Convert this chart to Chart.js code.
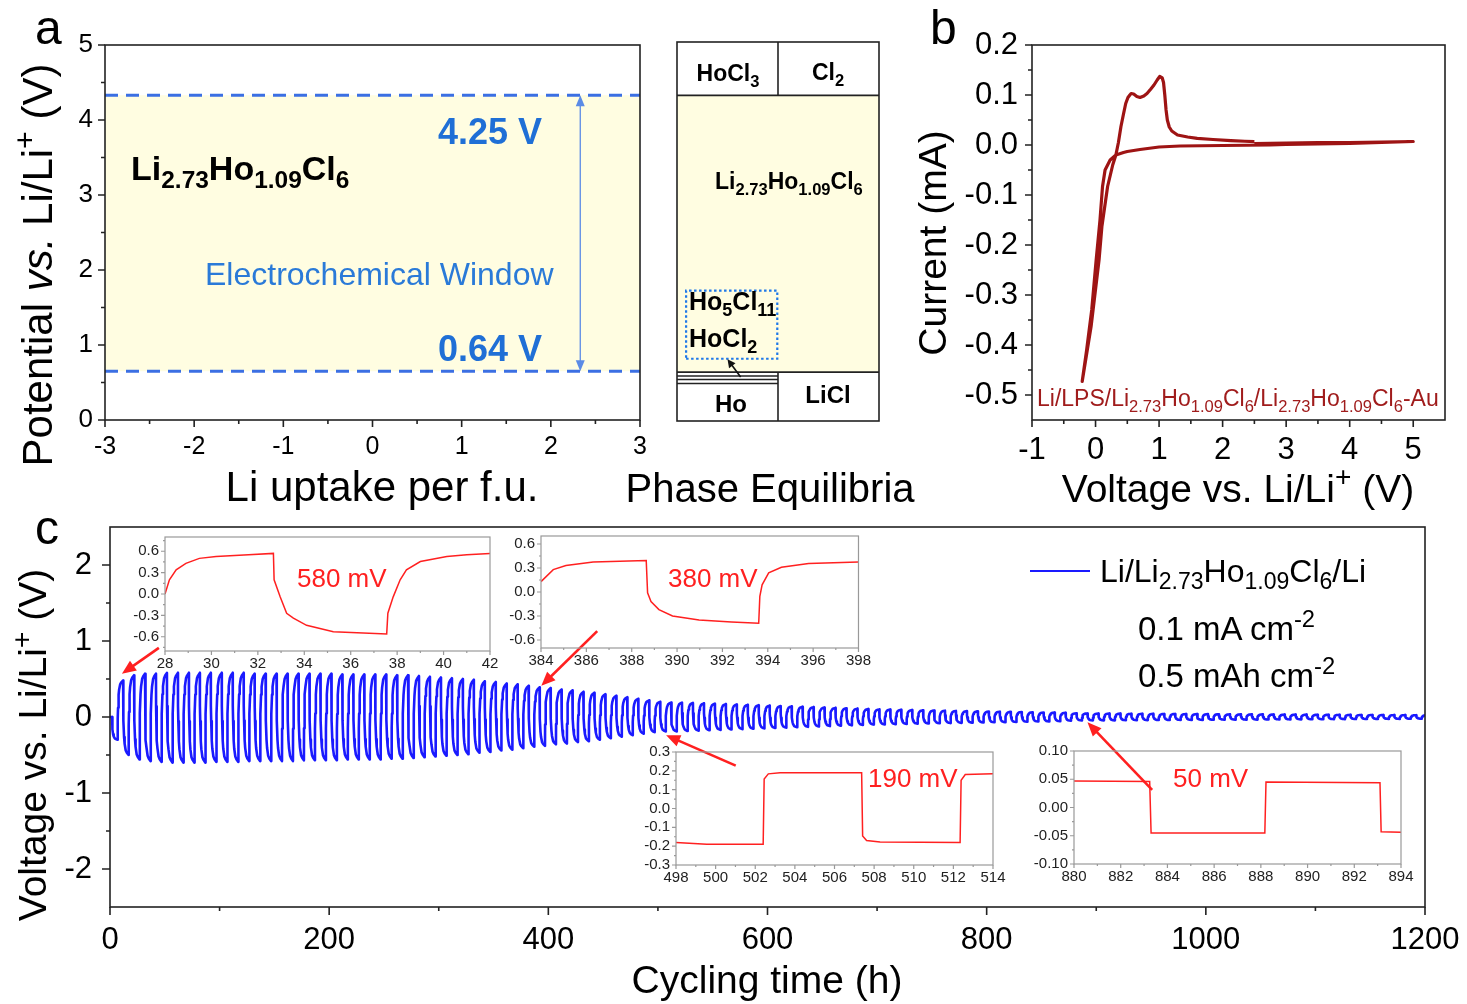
<!DOCTYPE html>
<html><head><meta charset="utf-8">
<script src="https://cdn.jsdelivr.net/npm/chart.js@4.4.0/dist/chart.umd.min.js"></script>
<style>
html,body{margin:0;padding:0;background:#fff;}
#root{position:relative;width:1467px;height:1004px;overflow:hidden;font-family:"Liberation Sans",Arial,Helvetica,sans-serif;color:#000;}
canvas{position:absolute;}
.t{position:absolute;white-space:nowrap;line-height:1;}
.t sub,.t sup{position:relative;line-height:0;vertical-align:baseline;font-size:0.72em;}
.t sub{top:0.32em;}
.t sup{top:-0.55em;}
</style></head>
<body><div id="root">
<canvas id="cC" width="1480" height="522" style="left:0;top:482px"></canvas>
<canvas id="i1" width="410" height="160" style="left:95px;top:520px"></canvas>
<canvas id="i2" width="380" height="160" style="left:495px;top:520px"></canvas>
<canvas id="i3" width="390" height="165" style="left:625px;top:735px"></canvas>
<canvas id="i4" width="410" height="165" style="left:1015px;top:735px"></canvas>
<canvas id="cA" width="660" height="515" style="left:0;top:0"></canvas>
<canvas id="cP" width="240" height="515" style="left:660px;top:0"></canvas>
<canvas id="cB" width="567" height="515" style="left:900px;top:0"></canvas>
</div>
<script>
// ---------------- DATA ----------------
// Panel a
const aXTicks = [-3,-2,-1,0,1,2,3];
const aXMinor = [-2.5,-1.5,-0.5,0.5,1.5,2.5];
const aYTicks = [0,1,2,3,4,5];
const aYMinor = [0.5,1.5,2.5,3.5,4.5];
const windowTop = 4.33;     // upper stability limit (drawn)
const windowBottom = 0.65;  // lower stability limit (drawn)
const windowX = [-3, 3];
const arrowX = 2.33;
// Phase equilibria column
const phaseLevels = [4.33, 0.65];
const thinPhaseLevels = [0.598, 0.552, 0.499];
const dotBoxX = [0.09, 0.993];
const dotBoxY = [0.828, 1.733];
// Panel b (CV)
const cvV = [2.5,3.0,3.5,4.0,4.5,5.0,4.5,4.0,3.5,3.0,2.75,2.0,1.33,1.0,0.7,0.5,0.44,0.32,0.23,0.15,0.11,0.07,0.01,-0.06,-0.14,-0.21,
  -0.07,0.055,0.10,0.19,0.27,0.32,0.36,0.40,0.44,0.475,0.51,0.54,0.56,0.60,0.65,0.70,0.76,0.81,0.87,0.92,0.97,1.01,1.05,1.07,1.09,1.11,1.13,1.16,1.20,1.29,1.45,1.60,1.85,2.13,2.35,2.50];
const cvI = [0.003,0.004,0.005,0.005,0.006,0.007,0.005,0.003,0.002,0.001,0.0,-0.001,-0.002,-0.004,-0.009,-0.013,-0.015,-0.02,-0.03,-0.05,-0.083,-0.15,-0.23,-0.33,-0.41,-0.473,
  -0.363,-0.23,-0.163,-0.083,-0.04,-0.02,0.005,0.037,0.062,0.083,0.095,0.10,0.103,0.102,0.097,0.095,0.098,0.103,0.112,0.12,0.13,0.137,0.134,0.125,0.10,0.07,0.05,0.036,0.028,0.02,0.016,0.0133,0.011,0.0087,0.0075,0.0067];
const bXTicks = [-1,0,1,2,3,4,5];
const bXMinor = [-0.5,0.5,1.5,2.5,3.5,4.5];
const bYTicks = [-0.5,-0.4,-0.3,-0.2,-0.1,0,0.1,0.2];
const bYMinor = [-0.45,-0.35,-0.25,-0.15,-0.05,0.05,0.15];
// Panel c (cycling)
const cXTicks = [0,200,400,600,800,1000,1200];
const cXMinor = [100,300,500,700,900,1100];
const cYTicks = [-2,-1,0,1,2];
const cYMinor = [-1.5,-0.5,0.5,1.5];
const restHours = 2;
const halfCycleHours = 5;
// plateau voltage of each cycle (charge / discharge)
const posPlateau = [0.48,0.55,0.57,0.57,0.58,0.58,0.58,0.58,0.58,0.58,0.58,0.58,0.57,0.57,0.57,0.57,0.57,0.57,0.57,0.57,
  0.56,0.56,0.56,0.56,0.56,0.55,0.55,0.54,0.53,0.52,0.51,0.50,0.49,0.47,0.46,0.44,0.43,0.41,0.39,0.38,
  0.36,0.35,0.33,0.32,0.30,0.28,0.26,0.24,0.22,0.20,0.19,0.19,0.185,0.18,0.175,0.17,0.165,0.16,0.155,0.15,
  0.145,0.14,0.135,0.13,0.125,0.12,0.115,0.11,0.105,0.10,0.098,0.095,0.092,0.089,0.086,0.083,0.08,0.077,0.075,0.072,
  0.07,0.068,0.066,0.063,0.06,0.058,0.055,0.05,0.047,0.046,0.045,0.044,0.043,0.042,0.041,0.04,0.04,0.039,0.038,0.038,
  0.037,0.036,0.035,0.035,0.034,0.033,0.032,0.032,0.031,0.03,0.03,0.029,0.028,0.027,0.027,0.026,0.025,0.025,0.024,0.023];
const negPlateau = [0.30,0.50,0.56,0.58,0.59,0.60,0.60,0.60,0.60,0.59,0.59,0.59,0.58,0.58,0.58,0.58,0.58,0.57,0.57,0.57,
  0.57,0.56,0.56,0.56,0.56,0.55,0.55,0.54,0.53,0.52,0.51,0.50,0.49,0.47,0.46,0.44,0.43,0.41,0.39,0.38,
  0.36,0.35,0.33,0.32,0.30,0.28,0.26,0.24,0.22,0.20,0.19,0.19,0.185,0.18,0.175,0.17,0.165,0.16,0.155,0.15,
  0.145,0.14,0.135,0.13,0.125,0.12,0.115,0.11,0.105,0.10,0.098,0.095,0.092,0.089,0.086,0.083,0.08,0.077,0.075,0.072,
  0.07,0.068,0.066,0.063,0.06,0.058,0.055,0.05,0.046,0.045,0.044,0.044,0.043,0.042,0.041,0.04,0.04,0.039,0.038,0.038,
  0.037,0.036,0.035,0.035,0.034,0.033,0.032,0.032,0.031,0.03,0.03,0.029,0.028,0.027,0.027,0.026,0.025,0.025,0.024,0.023];
const switchT = [0,0.05,0.35,0.85,1.35,2.35,3.35,4.95];
const switchF = [0,0.37,0.54,0.76,0.85,0.94,0.97,1.0];
// Insets (hours, volts)
const in1T = [28,28.19,28.48,28.9,29.48,30.2,31.6,32.67,32.7,32.96,33.24,33.53,34.1,35.25,37.55,37.6,37.83,38.13,38.4,39.0,40.14,41.0,42];
const in1V = [0.0,0.2,0.34,0.43,0.5,0.525,0.55,0.57,0.2,-0.04,-0.27,-0.34,-0.44,-0.53,-0.56,-0.27,-0.04,0.2,0.34,0.455,0.525,0.55,0.57];
const in2T = [384,384.54,385.1,386.3,388.64,388.7,388.85,389.2,389.8,390.97,392.4,393.6,393.65,393.75,394.04,394.6,395.8,398];
const in2V = [0.13,0.28,0.33,0.375,0.395,-0.01,-0.12,-0.22,-0.30,-0.35,-0.375,-0.39,-0.055,0.09,0.24,0.31,0.355,0.375];
const in3T = [498,499.55,502.4,502.45,502.66,503.25,507.37,507.42,507.62,508.3,512.34,512.39,512.6,514];
const in3V = [-0.18,-0.19,-0.19,0.157,0.184,0.19,0.19,-0.146,-0.17,-0.178,-0.18,0.15,0.18,0.185];
const in4T = [880,883.24,883.3,888.17,888.22,893.1,893.15,894];
const in4V = [0.047,0.046,-0.045,-0.045,0.045,0.044,-0.043,-0.044];
const in1Ticks = {x:[28,30,32,34,36,38,40,42], xm:[29,31,33,35,37,39,41], y:[-0.6,-0.3,0,0.3,0.6], ym:[-0.75,-0.45,-0.15,0.15,0.45,0.75]};
const in2Ticks = {x:[384,386,388,390,392,394,396,398], xm:[385,387,389,391,393,395,397], y:[-0.6,-0.3,0,0.3,0.6], ym:[-0.45,-0.15,0.15,0.45]};
const in3Ticks = {x:[498,500,502,504,506,508,510,512,514], xm:[499,501,503,505,507,509,511,513], y:[-0.3,-0.2,-0.1,0,0.1,0.2,0.3], ym:[-0.25,-0.15,-0.05,0.05,0.15,0.25]};
const in4Ticks = {x:[880,882,884,886,888,890,892,894], xm:[881,883,885,887,889,891,893], y:[-0.1,-0.05,0,0.05,0.1], ym:[-0.075,-0.025,0.025,0.075]};

// ---------------- HELPERS ----------------
const FONT = '"Liberation Sans", Arial, Helvetica, sans-serif';
Chart.defaults.font.family = FONT;
Chart.defaults.color = '#000';

const decor = {
  id: 'decor',
  afterDatasetsDraw(chart, args, o) {
    if (!o || !o.arrows) return;
    const ctx = chart.ctx, xs = chart.scales.x, ys = chart.scales.y;
    o.arrows.forEach(a => {
      const x1 = xs.getPixelForValue(a.from[0]), y1 = ys.getPixelForValue(a.from[1]);
      const x2 = xs.getPixelForValue(a.to[0]), y2 = ys.getPixelForValue(a.to[1]);
      const ang = Math.atan2(y2 - y1, x2 - x1), hl = a.head, hw = a.headW;
      const c = Math.cos(ang), s = Math.sin(ang);
      ctx.save();
      ctx.strokeStyle = a.color; ctx.fillStyle = a.color; ctx.lineWidth = a.width;
      ctx.beginPath();
      ctx.moveTo(a.double ? x1 + c * hl * 0.7 : x1, a.double ? y1 + s * hl * 0.7 : y1);
      ctx.lineTo(x2 - c * hl * 0.7, y2 - s * hl * 0.7);
      ctx.stroke();
      const head = (tx, ty, cc, ss) => {
        ctx.beginPath(); ctx.moveTo(tx, ty);
        ctx.lineTo(tx - cc * hl + ss * hw, ty - ss * hl - cc * hw);
        ctx.lineTo(tx - cc * hl - ss * hw, ty - ss * hl + cc * hw);
        ctx.closePath(); ctx.fill();
      };
      head(x2, y2, c, s);
      if (a.double) head(x1, y1, -c, -s);
      ctx.restore();
    });
  },
  afterDraw(chart, args, o) {
    if (!o || !o.frame) return;
    const ctx = chart.ctx, ca = chart.chartArea, xs = chart.scales.x, ys = chart.scales.y;
    ctx.save();
    ctx.strokeStyle = o.color; ctx.lineWidth = o.width;
    ctx.strokeRect(ca.left, ca.top, ca.right - ca.left, ca.bottom - ca.top);
    ctx.beginPath();
    const xt = (v, l) => { const p = xs.getPixelForValue(v); ctx.moveTo(p, ca.bottom); ctx.lineTo(p, ca.bottom + l); };
    const yt = (v, l) => { const p = ys.getPixelForValue(v); ctx.moveTo(ca.left, p); ctx.lineTo(ca.left - l, p); };
    xs.ticks.forEach(t => xt(t.value, o.len));
    (o.xMinor || []).forEach(v => xt(v, o.minorLen));
    ys.ticks.forEach(t => yt(t.value, o.len));
    (o.yMinor || []).forEach(v => yt(v, o.minorLen));
    ctx.stroke();
    ctx.restore();
  }
};
Chart.register(decor);

function axis(min, max, tickVals, fs, pad, size, fmt, color) {
  return {
    type: 'linear', min, max,
    grid: {display: false, drawTicks: false}, border: {display: false},
    afterBuildTicks: s => { s.ticks = tickVals.map(v => ({value: v})); },
    afterFit: s => { if (s.isHorizontal()) s.height = size; else s.width = size; },
    ticks: {font: {size: fs, family: FONT}, padding: pad, color: color || '#000', autoSkip: false, maxRotation: 0, minRotation: 0,
      callback: v => fmt(v)}
  };
}
function baseOpts(pad, plugins, scales) {
  return {responsive: false, animation: false, devicePixelRatio: 1, events: [],
    layout: {padding: pad},
    plugins: Object.assign({legend: {display: false}, tooltip: {enabled: false}, filler: {drawTime: 'beforeDatasetsDraw'}}, plugins),
    scales: scales};
}
const pts = (xs, ys) => xs.map((x, i) => ({x, y: ys[i]}));
const fmtInt = v => String(v);
const fmt1 = v => v.toFixed(1);
const fmt2 = v => v.toFixed(2);

// ---------------- PANEL a ----------------
const DASH = '#3b6fe3', YEL = '#fffde1';
new Chart(document.getElementById('cA'), {
  type: 'line',
  data: {datasets: [
    {data: windowX.map(x => ({x, y: windowTop})), borderColor: DASH, borderWidth: 3, borderDash: [13, 8], pointRadius: 0, fill: false},
    {data: windowX.map(x => ({x, y: windowBottom})), borderColor: DASH, borderWidth: 3, borderDash: [13, 8], pointRadius: 0, fill: '-1', backgroundColor: YEL}
  ]},
  options: baseOpts({left: 0, right: 20, top: 45, bottom: 0},
    {decor: {frame: true, color: '#222', width: 1.6, len: 7, minorLen: 4, xMinor: aXMinor, yMinor: aYMinor,
      arrows: [{from: [arrowX, windowBottom], to: [arrowX, windowTop], double: true, color: '#5b8be6', width: 1.3, head: 11, headW: 4.5}]}},
    {x: axis(-3, 3, aXTicks, 25, 12, 95, fmtInt), y: axis(0, 5, aYTicks, 26, 12, 105, fmtInt)})
});

// ---------------- PHASE EQUILIBRIA ----------------
const PX = [0, 2], HALF = [0, 1];
const blk = {borderColor: '#222', borderWidth: 1.6, pointRadius: 0, fill: false};
new Chart(document.getElementById('cP'), {
  type: 'line',
  data: {datasets: [
    {data: [{x: dotBoxX[0], y: dotBoxY[0]}, {x: dotBoxX[1], y: dotBoxY[0]}, {x: dotBoxX[1], y: dotBoxY[1]}, {x: dotBoxX[0], y: dotBoxY[1]}, {x: dotBoxX[0], y: dotBoxY[0]}],
      borderColor: '#1f78e8', borderWidth: 2.2, borderDash: [2.5, 2.5], pointRadius: 0, fill: false},
    Object.assign({}, blk, {data: PX.map(x => ({x, y: phaseLevels[0]}))}),
    Object.assign({}, blk, {data: PX.map(x => ({x, y: phaseLevels[1]})), fill: '-1', backgroundColor: YEL}),
    Object.assign({}, blk, {data: [{x: 1, y: phaseLevels[0]}, {x: 1, y: 5.04}]}),
    Object.assign({}, blk, {data: [{x: 1, y: 0}, {x: 1, y: phaseLevels[1]}]}),
    ...thinPhaseLevels.map(l => Object.assign({}, blk, {borderWidth: 1.4, data: HALF.map(x => ({x, y: l}))}))
  ]},
  options: baseOpts({left: 17, right: 21, top: 42, bottom: 94},
    {decor: {frame: true, color: '#222', width: 1.6, len: 0, minorLen: 0,
      arrows: [{from: [0.63, 0.585], to: [0.5, 0.82], color: '#111', width: 1.6, head: 8, headW: 4}]}},
    {x: Object.assign(axis(0, 2, [], 10, 0, 0, fmtInt), {display: false}),
     y: Object.assign(axis(0, 5.04, [], 10, 0, 0, fmtInt), {display: false})})
});

// ---------------- PANEL b ----------------
new Chart(document.getElementById('cB'), {
  type: 'line',
  data: {datasets: [{data: pts(cvV, cvI), borderColor: '#9e1414', borderWidth: 3.2, pointRadius: 0, fill: false, borderJoinStyle: 'round'}]},
  options: baseOpts({left: 0, right: 22, top: 45, bottom: 0},
    {decor: {frame: true, color: '#222', width: 1.6, len: 7, minorLen: 4, xMinor: bXMinor, yMinor: bYMinor}},
    {x: axis(-1, 5.5, bXTicks, 31, 12, 95, fmtInt), y: axis(-0.55, 0.2, bYTicks, 31, 14, 132, fmt1)})
});

// ---------------- PANEL c ----------------
const trace = [{x: 0, y: 0}, {x: restHours, y: 0}];
(function build() {
  let prev = 0, t0 = restHours;
  for (let k = 0; k < posPlateau.length; k++) {
    [-negPlateau[k], posPlateau[k]].forEach(target => {
      for (let i = 1; i < switchT.length; i++) trace.push({x: t0 + switchT[i], y: prev + (target - prev) * switchF[i]});
      prev = target; t0 += halfCycleHours;
    });
  }
})();
const RED = '#ff2020';
new Chart(document.getElementById('cC'), {
  type: 'line',
  data: {datasets: [{data: trace, borderColor: '#1a1aff', borderWidth: 2.6, pointRadius: 0, fill: false, borderJoinStyle: 'round'}]},
  options: baseOpts({left: 0, right: 55, top: 45, bottom: 0},
    {decor: {frame: true, color: '#222', width: 1.6, len: 8, minorLen: 4, xMinor: cXMinor, yMinor: cYMinor,
      arrows: [
        {from: [44.6, 0.91], to: [10.9, 0.57], color: RED, width: 2.6, head: 14, headW: 6},
        {from: [444.6, 1.13], to: [393.6, 0.41], color: RED, width: 2.6, head: 14, headW: 6},
        {from: [571, -0.64], to: [507.5, -0.24], color: RED, width: 2.6, head: 14, headW: 6},
        {from: [951, -0.96], to: [892, -0.07], color: RED, width: 2.6, head: 14, headW: 6}
      ]}},
    {x: axis(0, 1200, cXTicks, 31, 15, 97, fmtInt), y: axis(-2.5, 2.5, cYTicks, 31, 18, 110, fmtInt)})
});

// ---------------- INSETS ----------------
function inset(id, T, V, tk, xr, yr, pad, yw, xh, fmt) {
  new Chart(document.getElementById(id), {
    type: 'line',
    data: {datasets: [{data: pts(T, V), borderColor: RED, borderWidth: 1.5, pointRadius: 0, fill: false}]},
    options: baseOpts(pad,
      {decor: {frame: true, color: '#999', width: 1.2, len: 4, minorLen: 2, xMinor: tk.xm, yMinor: tk.ym}},
      {x: axis(xr[0], xr[1], tk.x, 15, 4, xh, fmtInt, '#222'), y: axis(yr[0], yr[1], tk.y, 15, 6, yw, fmt, '#222')})
  });
}
inset('i1', in1T, in1V, in1Ticks, [28, 42], [-0.8, 0.8], {left: 0, right: 15, top: 17, bottom: 0}, 70, 29, fmt1);
inset('i2', in2T, in2V, in2Ticks, [384, 398], [-0.7, 0.7], {left: 0, right: 15, top: 16, bottom: 0}, 46, 32, fmt1);
inset('i3', in3T, in3V, in3Ticks, [498, 514], [-0.3, 0.3], {left: 0, right: 22, top: 17, bottom: 0}, 51, 35, fmt1);
inset('i4', in4T, in4V, in4Ticks, [880, 894], [-0.1, 0.1], {left: 0, right: 24, top: 16, bottom: 0}, 59, 36, fmt2);

// ---------------- TEXT ----------------
const root = document.getElementById('root');
function T(html, x, base, fs, o) {
  o = o || {};
  const d = document.createElement('div');
  d.className = 't'; d.innerHTML = html;
  d.style.fontSize = fs + 'px';
  d.style.left = x + 'px';
  d.style.top = (base - 0.85 * fs) + 'px';
  if (o.bold) d.style.fontWeight = 'bold';
  if (o.color) d.style.color = o.color;
  if (o.center) d.style.transform = 'translateX(-50%)';
  root.appendChild(d);
}
function R(html, cx, cy, fs) {
  const d = document.createElement('div');
  d.className = 't'; d.innerHTML = html;
  d.style.fontSize = fs + 'px'; d.style.left = cx + 'px'; d.style.top = cy + 'px';
  d.style.transform = 'translate(-50%,-50%) rotate(-90deg)';
  root.appendChild(d);
}
const LHC = 'Li<sub>2.73</sub>Ho<sub>1.09</sub>Cl<sub>6</sub>';
// panel letters
T('a', 35, 45, 48); T('b', 930, 45, 48); T('c', 35, 545, 48);
// panel a
T(LHC, 131, 180, 34, {bold: true});
T('4.25 V', 438, 145, 36, {bold: true, color: '#1f6fd6'});
T('0.64 V', 438, 362, 36, {bold: true, color: '#1f6fd6'});
T('Electrochemical Window', 205, 285, 32, {color: '#2a7ad8'});
R('Potential <i>vs.</i> Li/Li<sup>+</sup> (V)', 38, 265, 42);
T('Li uptake per f.u.', 382, 502, 42, {center: true});
// phase equilibria
T('HoCl<sub>3</sub>', 728, 82, 23, {bold: true, center: true});
T('Cl<sub>2</sub>', 828, 81, 23, {bold: true, center: true});
T(LHC, 715, 190, 23, {bold: true});
T('Ho<sub>5</sub>Cl<sub>11</sub>', 689, 310, 25, {bold: true});
T('HoCl<sub>2</sub>', 689, 347, 25, {bold: true});
T('Ho', 731, 412, 24, {bold: true, center: true});
T('LiCl', 828, 403, 24, {bold: true, center: true});
T('Phase Equilibria', 770, 502, 40, {center: true});
// panel b
T('Li/LPS/' + LHC + '/' + LHC + '-Au', 1037, 407, 23, {color: '#a01c1c'});
R('Current (mA)', 932, 243, 39);
T('Voltage vs. Li/Li<sup>+</sup> (V)', 1238, 502, 39, {center: true});
// panel c
R('Voltage vs. Li/Li<sup>+</sup> (V)', 32, 745, 39);
T('Cycling time (h)', 767, 993, 39, {center: true});
T('Li/' + LHC + '/Li', 1100, 582, 32);
T('0.1 mA cm<sup>-2</sup>', 1138, 640, 33);
T('0.5 mAh cm<sup>-2</sup>', 1138, 687, 33);
T('580 mV', 297, 587, 26, {color: RED});
T('380 mV', 668, 587, 26, {color: RED});
T('190 mV', 868, 787, 26, {color: RED});
T('50 mV', 1173, 787, 26, {color: RED});
const leg = document.createElement('div');
leg.style.cssText = 'position:absolute;left:1030px;top:570px;width:60px;height:2px;background:#1a1aff;';
root.appendChild(leg);
</script>
</body></html>
